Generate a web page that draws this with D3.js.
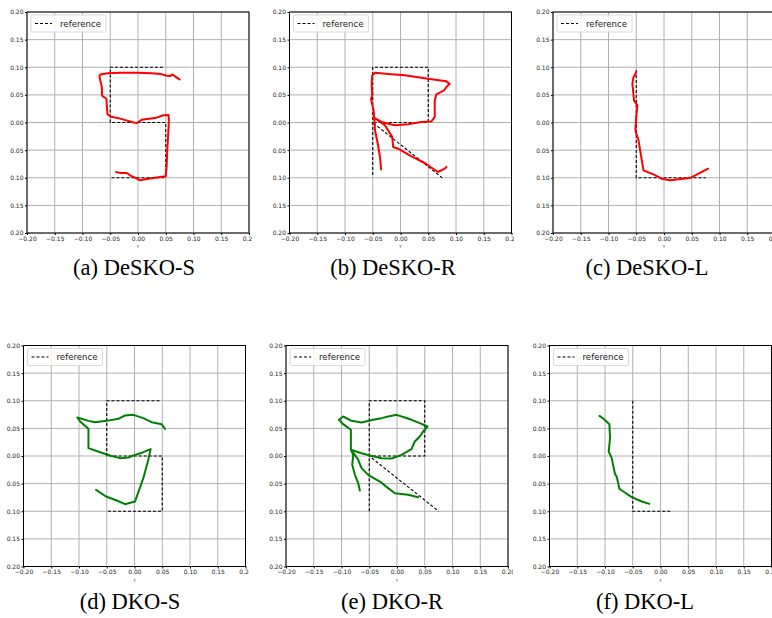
<!DOCTYPE html>
<html>
<head>
<meta charset="utf-8">
<script src="https://cdn.jsdelivr.net/npm/d3@7"></script>
<style>
  body { margin: 0; background: #fff; }
  svg { display: block; }
  .tick text { font-family: "DejaVu Sans", sans-serif; font-size: 6px; fill: #222; }
  .caption { font-family: "Liberation Serif", "Times New Roman", serif; font-size: 22.5px; fill: #000; }
</style>
</head>
<body>
<svg width="772" height="618"></svg>
<script>
// ---- data ----
var xTicks = [-0.2, -0.15, -0.1, -0.05, 0, 0.05, 0.1, 0.15, 0.2];
var xTickLabels = ["\u22120.20", "\u22120.15", "\u22120.10", "\u22120.05", "0.00", "0.05", "0.10", "0.15", "0.20"];
var yTicks = [0.2, 0.15, 0.1, 0.05, 0, -0.05, -0.1, -0.15, -0.2];
var yTickLabels = ["0.20", "0.15", "0.10", "0.05", "0.00", "0.05", "0.10", "0.15", "0.20"];
var captions = ["(a) DeSKO-S", "(b) DeSKO-R", "(c) DeSKO-L", "(d) DKO-S", "(e) DKO-R", "(f) DKO-L"];

// reference letters (dashed)
var refS = [[0.045, 0.10], [-0.05, 0.10], [-0.05, 0.0], [0.05, 0.0], [0.05, -0.10], [-0.05, -0.10]];
var refR = [[-0.05, -0.095], [-0.05, 0.10], [0.05, 0.10], [0.05, 0.0], [-0.05, 0.0], [0.075, -0.10]];
var refRb = [[-0.05, -0.10], [-0.05, 0.10], [0.05, 0.10], [0.05, 0.0], [-0.05, 0.0], [0.075, -0.10]];
var refL = [[-0.05, 0.095], [-0.05, -0.10], [0.075, -0.10]];
var refLb = [[-0.05, 0.10], [-0.05, -0.10], [0.02, -0.10]];

// DeSKO trajectories (red)
var deskoS = [[0.075, 0.078], [0.066, 0.084], [0.070, 0.081], [0.062, 0.087], [0.058, 0.084], [0.050, 0.085],
  [0.040, 0.088], [0.025, 0.089], [0.0, 0.090], [-0.030, 0.090], [-0.055, 0.089], [-0.068, 0.087],
  [-0.0695, 0.0836], [-0.068, 0.076], [-0.065, 0.064], [-0.065, 0.049], [-0.057, 0.043], [-0.056, 0.028],
  [-0.055, 0.015], [-0.050, 0.011], [-0.032, 0.007], [-0.008, 0.0], [-0.002, -0.001], [0.0066, 0.005],
  [0.0335, 0.0088], [0.0455, 0.013], [0.055, 0.0136], [0.0557, 0.004], [0.0545, -0.020], [0.0527, -0.050],
  [0.0515, -0.0806], [0.0497, -0.0974], [0.0395, -0.0986], [0.0186, -0.1017], [0.0036, -0.1047],
  [-0.0054, -0.0999], [-0.0144, -0.0956], [-0.020, -0.0914], [-0.032, -0.0914], [-0.0395, -0.0896]];
var deskoR = [[-0.035, -0.085], [-0.037, -0.0625], [-0.041, -0.038], [-0.046, -0.014], [-0.047, 0.004],
  [-0.0485, 0.022], [-0.052, 0.037], [-0.053, 0.043], [-0.051, 0.049], [-0.052, 0.070], [-0.051, 0.085],
  [-0.046, 0.090], [-0.022, 0.088], [0.0078, 0.0854], [0.0497, 0.0793], [0.0826, 0.0745], [0.0886, 0.070],
  [0.0826, 0.064], [0.0784, 0.058], [0.0647, 0.051], [0.0617, 0.040], [0.0617, 0.010], [0.0557, 0.002],
  [0.0377, 0.0009], [0.0138, -0.0033], [-0.0102, -0.0051], [-0.0341, 0.001], [-0.045, 0.007],
  [-0.0281, -0.005], [-0.015, -0.026], [-0.0132, -0.0443], [-0.0042, -0.0474], [0.0198, -0.0612],
  [0.0437, -0.0733], [0.0677, -0.0896], [0.0796, -0.0836], [0.0826, -0.0805]];
var deskoL = [[-0.050, 0.0914], [-0.055, 0.082], [-0.057, 0.070], [-0.056, 0.061], [-0.054, 0.040],
  [-0.048, 0.031], [-0.050, 0.010], [-0.0515, -0.014], [-0.050, -0.020], [-0.046, -0.032], [-0.037, -0.0866],
  [-0.019, -0.0938], [-0.0042, -0.1017], [0.0108, -0.1047], [0.0467, -0.1005], [0.0796, -0.0836]];

// DKO trajectories (green)
var dkoS = [[0.0549, 0.049], [0.0489, 0.0576], [0.040, 0.0594], [0.031, 0.0612], [0.0159, 0.0685],
  [-0.0021, 0.0745], [-0.0171, 0.0733], [-0.0291, 0.0673], [-0.0501, 0.0636], [-0.0711, 0.0612],
  [-0.083, 0.0636], [-0.1029, 0.0697], [-0.098, 0.0624], [-0.083, 0.0492], [-0.083, 0.0142],
  [-0.062, 0.0069], [-0.0441, 0.0009], [-0.0261, -0.0039], [-0.0111, -0.0027], [-0.0021, 0.0009],
  [0.0159, 0.0069], [0.0291, 0.0124], [0.0249, -0.0069], [0.0159, -0.0401], [0.0009, -0.0824],
  [-0.0171, -0.0872], [-0.0321, -0.0805], [-0.0513, -0.0733], [-0.0693, -0.0612]];
var dkoR = [[-0.0669, -0.0624], [-0.0699, -0.0492], [-0.0759, -0.0341], [-0.0807, -0.016], [-0.0789, 0.0021],
  [-0.0831, 0.0112], [-0.0831, 0.0474], [-0.0969, 0.0576], [-0.1047, 0.0655], [-0.0969, 0.0715],
  [-0.0819, 0.0636], [-0.0639, 0.0606], [-0.0429, 0.0655], [-0.0279, 0.0685], [-0.0159, 0.0715],
  [-0.0009, 0.0745], [0.0141, 0.0697], [0.0261, 0.0655], [0.0411, 0.0594], [0.0549, 0.0534],
  [0.0471, 0.0443], [0.0411, 0.0353], [0.0321, 0.0262], [0.0261, 0.0124], [0.0081, 0.0021],
  [-0.0099, -0.0045], [-0.0279, -0.0039], [-0.0489, 0.0009], [-0.0639, 0.0051], [-0.0831, 0.0112],
  [-0.0759, 0.0021], [-0.0699, -0.0069], [-0.0639, -0.022], [-0.0519, -0.0341], [-0.0309, -0.0462],
  [-0.0159, -0.0582], [-0.0039, -0.0673], [0.0201, -0.0703], [0.0381, -0.0745]];
var dkoL = [[-0.110, 0.0727], [-0.1028, 0.0673], [-0.0921, 0.0576], [-0.0909, 0.0323], [-0.0933, 0.0082],
  [-0.0879, -0.0039], [-0.0819, -0.0329], [-0.0789, -0.0371], [-0.0741, -0.0594], [-0.0669, -0.0642],
  [-0.0519, -0.0745], [-0.0339, -0.0824], [-0.0201, -0.0866]];

var refs = [refS, refR, refL, refS, refRb, refLb];
var trajs = [deskoS, deskoR, deskoL, dkoS, dkoR, dkoL];
var trajColors = ["#ff0000", "#ff0000", "#ff0000", "#008000", "#008000", "#008000"];

// ---- layout ----
var panels = [
  {left: 27, top: 12, clipR: 252, capX: 134, capY: 275},
  {left: 289.5, top: 12, clipR: 514, capX: 393, capY: 275},
  {left: 553, top: 12, clipR: 772, capX: 647, capY: 275},
  {left: 23.5, top: 345.5, clipR: 249, capX: 130, capY: 609},
  {left: 286, top: 345.5, clipR: 513, capX: 392, capY: 609},
  {left: 549.5, top: 345.5, clipR: 772, capX: 645, capY: 609}
];
var pw = 222, ph = 221;

var svg = d3.select("svg");
var x = d3.scaleLinear().domain([-0.2, 0.2]).range([0, pw]),
    y = d3.scaleLinear().domain([-0.2, 0.2]).range([ph, 0]);
var line = d3.line().x(function(d) { return x(d[0]); }).y(function(d) { return y(d[1]); });

panels.forEach(function(p, i) {
  svg.append("clipPath").attr("id", "clip" + i)
    .append("rect")
      .attr("x", -30).attr("y", -10)
      .attr("width", p.clipR - p.left + 30).attr("height", ph + 30);
  svg.append("clipPath").attr("id", "plot" + i)
    .append("rect").attr("width", pw).attr("height", ph);

  var g = svg.append("g")
      .attr("transform", "translate(" + p.left + "," + p.top + ")")
      .attr("clip-path", "url(#clip" + i + ")");

  // grid
  g.append("g").selectAll("line").data(xTicks).enter().append("line")
      .attr("x1", function(d) { return x(d); }).attr("x2", function(d) { return x(d); })
      .attr("y1", 0).attr("y2", ph)
      .attr("stroke", "#b0b0b0").attr("stroke-width", 1);
  g.append("g").selectAll("line").data(yTicks).enter().append("line")
      .attr("y1", function(d) { return y(d); }).attr("y2", function(d) { return y(d); })
      .attr("x1", 0).attr("x2", pw)
      .attr("stroke", "#b0b0b0").attr("stroke-width", 1);

  var inner = g.append("g").attr("clip-path", "url(#plot" + i + ")");

  inner.append("path")
      .datum(refs[i])
      .attr("d", line)
      .attr("fill", "none")
      .attr("stroke", "#000")
      .attr("stroke-width", 1.1)
      .attr("stroke-dasharray", "3,2");

  inner.append("path")
      .datum(trajs[i])
      .attr("d", line)
      .attr("fill", "none")
      .attr("stroke", trajColors[i])
      .attr("stroke-width", 2)
      .attr("stroke-linejoin", "round")
      .attr("stroke-linecap", "round");

  // axes
  g.append("g")
      .attr("transform", "translate(0," + ph + ")")
      .call(d3.axisBottom(x).tickValues(xTicks).tickSize(2).tickPadding(1.5)
        .tickFormat(function(d, j) { return xTickLabels[j]; }))
      .call(function(a) { a.select(".domain").remove(); });
  g.append("g")
      .call(d3.axisLeft(y).tickValues(yTicks).tickSize(2).tickPadding(1.5)
        .tickFormat(function(d, j) { return yTickLabels[j]; }))
      .call(function(a) { a.select(".domain").remove(); });

  g.append("text")
      .attr("x", pw / 2).attr("y", ph + 15)
      .attr("text-anchor", "middle")
      .style("font-family", "DejaVu Sans, sans-serif")
      .style("font-size", "4px")
      .style("fill", "#222")
      .text("Y");

  // frame
  g.append("rect")
      .attr("width", pw).attr("height", ph)
      .attr("fill", "none").attr("stroke", "#000").attr("stroke-width", 1);

  // legend
  var lg = g.append("g").attr("transform", "translate(4,3)");
  lg.append("rect")
      .attr("width", 75).attr("height", 17).attr("rx", 1.5)
      .attr("fill", "#fff").attr("fill-opacity", 0.85)
      .attr("stroke", "#d0d0d0").attr("stroke-width", 0.8);
  lg.append("line")
      .attr("x1", 4).attr("x2", 21).attr("y1", 8.5).attr("y2", 8.5)
      .attr("stroke", "#000").attr("stroke-width", 1.1).attr("stroke-dasharray", "3,2");
  lg.append("text")
      .attr("x", 29).attr("y", 11.6)
      .style("font-family", "DejaVu Sans, sans-serif")
      .style("font-size", "8.6px")
      .style("fill", "#222")
      .text("reference");

  svg.append("text")
      .attr("class", "caption")
      .attr("x", p.capX).attr("y", p.capY)
      .attr("text-anchor", "middle")
      .text(captions[i]);
});
</script>
</body>
</html>
